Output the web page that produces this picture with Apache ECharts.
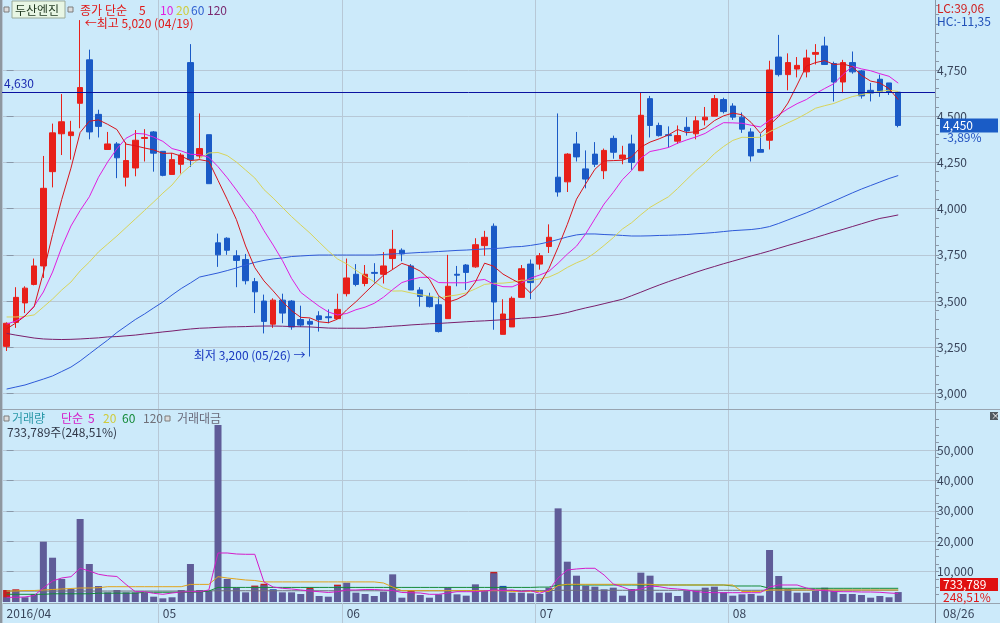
<!DOCTYPE html>
<html>
<head>
<meta charset="utf-8">
<title>두산엔진</title>
<script src="https://cdn.jsdelivr.net/npm/echarts@6.0.0/dist/echarts.min.js"></script>
<style>
html,body{margin:0;padding:0;background:#cceafa;}
#chart{width:1000px;height:623px;}
</style>
</head>
<body>
<div id="chart"></div>
<script>
// ---------------- data ----------------
const stockName = '두산엔진';
const dates = ['04/06','04/07','04/08','04/11','04/12','04/14','04/15','04/18','04/19','04/20','04/21','04/22','04/25','04/26','04/27','04/28','04/29',
'05/02','05/03','05/04','05/09','05/10','05/11','05/12','05/13','05/16','05/17','05/18','05/19','05/20','05/23','05/24','05/25','05/26','05/27','05/30','05/31',
'06/01','06/02','06/03','06/07','06/08','06/09','06/10','06/13','06/14','06/15','06/16','06/17','06/20','06/21','06/22','06/23','06/24','06/27','06/28','06/29','06/30',
'07/01','07/04','07/05','07/06','07/07','07/08','07/11','07/12','07/13','07/14','07/15','07/18','07/19','07/20','07/21','07/22','07/25','07/26','07/27','07/28','07/29',
'08/01','08/02','08/03','08/04','08/05','08/08','08/09','08/10','08/11','08/12','08/16','08/17','08/18','08/19','08/22','08/23','08/24','08/25','08/26'];
const monthLabels = ['2016/04','05','06','07','08'];
const endLabel = '08/26';

const open = [3255,3385,3490,3590,3690,4200,4405,4395,4570,4805,
 4510,4320,4350,4170,4220,4380,4415,4310,4185,4240,
 4790,4285,4400,3815,3840,3745,3725,3605,3500,3375,
 3505,3500,3400,3390,3420,3415,3405,3540,3645,3595,
 3655,3645,3730,3775,3690,3560,3525,3480,3405,3645,
 3695,3685,3800,3905,3320,3360,3520,3700,3700,3795,
 4170,4145,4350,4215,4295,4205,4380,4270,4350,4205,
 4595,4450,4400,4365,4440,4405,4480,4500,4590,4555,
 4495,4415,4320,4370,4820,4725,4755,4740,4835,4880,
 4785,4685,4790,4745,4640,4700,4680,4630];
const close = [3380,3520,3570,3690,4110,4410,4470,4415,4655,4415,
 4445,4350,4275,4260,4370,4385,4300,4180,4265,4290,
 4265,4325,4135,3750,3775,3720,3610,3550,3390,3505,
 3435,3360,3370,3375,3400,3410,3455,3625,3590,3645,
 3650,3690,3780,3755,3560,3525,3470,3335,3580,3640,
 3655,3805,3845,3495,3430,3515,3675,3600,3745,3845,
 4090,4295,4280,4160,4240,4315,4305,4290,4250,4505,
 4450,4395,4395,4395,4420,4475,4495,4595,4525,4495,
 4430,4285,4305,4750,4725,4790,4775,4815,4845,4780,
 4685,4790,4740,4610,4625,4635,4630,4450];
const low = [3230,3355,3435,3585,3625,4115,4290,4265,4435,4375,
 4385,4320,4165,4120,4175,4255,4200,4175,4185,4190,
 4225,4265,4135,3685,3750,3575,3590,3435,3325,3355,
 3380,3345,3360,3200,3335,3380,3405,3525,3580,3580,
 3595,3595,3670,3715,3560,3470,3465,3330,3405,3580,
 3560,3680,3745,3345,3320,3360,3520,3510,3670,3760,
 4065,4090,4255,4110,4225,4160,4270,4240,4210,4205,
 4385,4390,4330,4350,4395,4375,4450,4500,4515,4480,
 4410,4255,4305,4320,4715,4640,4710,4710,4780,4780,
 4580,4625,4730,4595,4580,4605,4615,4440];
const high = [3385,3575,3580,3730,4285,4460,4620,4475,5020,4860,
 4535,4415,4360,4360,4425,4430,4420,4310,4300,4300,
 4890,4515,4400,3865,3845,3775,3755,3625,3535,3515,
 3540,3505,3475,3405,3445,3455,3540,3730,3700,3695,
 3705,3765,3885,3785,3700,3575,3545,3525,3750,3690,
 3700,3840,3880,3920,3510,3525,3695,3725,3760,3915,
 4515,4300,4415,4315,4360,4325,4395,4340,4400,4630,
 4610,4465,4445,4450,4495,4500,4550,4615,4600,4570,
 4520,4435,4405,4800,4940,4840,4820,4860,4890,4930,
 4795,4805,4850,4750,4680,4725,4680,4635];

const ma5 = [3350,3381,3419,3470,3654,3860,4050,4219,4412,4473,
 4480,4456,4428,4349,4340,4328,4318,4299,4300,4284,
 4260,4265,4256,4153,4050,3941,3798,3681,3609,3555,
 3498,3448,3412,3409,3388,3383,3402,3453,3496,3545,
 3593,3640,3671,3704,3687,3662,3618,3529,3494,3510,
 3536,3603,3705,3688,3646,3618,3592,3543,3593,3676,
 3791,3915,4051,4134,4213,4258,4260,4262,4280,4333,
 4360,4378,4399,4428,4411,4416,4436,4476,4502,4517,
 4508,4466,4408,4453,4499,4571,4669,4771,4790,4801,
 4780,4783,4768,4721,4690,4680,4649,4590];
const ma10 = [3375,3392,3419,3473,3549,3657,3792,3906,3990,4064,
 4170,4253,4324,4381,4407,4404,4387,4364,4325,4312,
 4294,4292,4278,4227,4167,4101,4032,3969,3881,3803,
 3720,3623,3547,3509,3472,3441,3425,3433,3453,3467,
 3488,3521,3562,3600,3616,3628,3629,3600,3599,3599,
 3599,3611,3617,3591,3578,3577,3598,3624,3641,3661,
 3705,3754,3797,3864,3945,4025,4088,4157,4207,4273,
 4309,4319,4331,4354,4372,4388,4407,4438,4465,4464,
 4462,4451,4442,4478,4508,4540,4568,4590,4622,4650,
 4676,4726,4770,4756,4746,4730,4716,4679];
const ma20 = [3414,3414,3417,3425,3468,3511,3560,3603,3663,3711,
 3766,3809,3852,3898,3944,3990,4036,4084,4128,4188,
 4232,4272,4301,4304,4287,4252,4209,4166,4103,4057,
 4007,3957,3912,3868,3819,3771,3728,3701,3667,3635,
 3604,3572,3554,3555,3544,3534,3527,3516,3526,3533,
 3544,3566,3590,3596,3597,3602,3613,3612,3620,3630,
 3652,3682,3707,3727,3761,3801,3843,3890,3924,3967,
 4007,4036,4064,4109,4158,4206,4247,4297,4336,4369,
 4386,4385,4386,4416,4440,4464,4487,4514,4543,4557,
 4569,4589,4606,4617,4626,4634,4641,4634];
const ma60 = [3024,3035,3046,3062,3078,3095,3119,3143,3176,3214,
 3252,3289,3330,3365,3400,3430,3463,3495,3533,3568,
 3598,3630,3641,3652,3665,3679,3695,3709,3720,3728,
 3733,3741,3744,3747,3749,3749,3749,3749,3749,3749,
 3749,3752,3755,3757,3760,3763,3765,3768,3771,3774,
 3776,3779,3782,3784,3787,3793,3795,3801,3809,3820,
 3833,3847,3858,3863,3863,3860,3858,3855,3852,3852,
 3853,3855,3856,3858,3860,3864,3867,3871,3876,3881,
 3884,3887,3893,3903,3920,3939,3958,3977,3998,4020,
 4041,4063,4085,4106,4125,4144,4163,4179];
const ma120 = [3325,3316,3308,3300,3295,3293,3292,3293,3295,3298,
 3301,3306,3308,3312,3316,3322,3327,3333,3338,3344,
 3349,3353,3355,3358,3360,3361,3362,3364,3365,3365,
 3364,3362,3361,3360,3357,3354,3353,3353,3353,3353,
 3357,3360,3364,3367,3371,3374,3377,3379,3382,3385,
 3388,3391,3393,3396,3399,3403,3407,3410,3413,3420,
 3428,3438,3451,3463,3474,3486,3498,3510,3529,3548,
 3568,3587,3605,3622,3639,3656,3672,3687,3702,3716,
 3730,3744,3757,3771,3786,3801,3815,3830,3844,3859,
 3874,3888,3903,3918,3933,3947,3956,3966];

// trading value bars (axis units)
const tradeValue = [1550,3600,1550,2630,19840,14570,7570,4280,27300,12500,
 5260,3180,3950,3180,3180,3070,1750,1210,1550,3950,
 12500,3950,3620,58220,7570,4820,3180,5040,5500,3950,
 3180,3180,2630,4280,1970,1750,5260,6350,3070,2630,
 1970,3390,9100,1420,3390,2300,1420,2520,4820,2520,
 2080,5810,3950,9430,4820,3070,3070,2850,2630,4710,
 30800,13260,8660,5370,5040,4170,4710,2080,4280,9650,
 8660,3070,3070,1970,3720,3720,4710,5040,3180,2080,
 2520,2630,2080,17100,8550,4280,3070,3070,3620,4710,
 3620,2630,2630,2300,1420,1970,1550,3265];
// volume bar tops that show above the trading-value bars (null = hidden)
const volumeCap = [3950,4180,null,null,null,null,null,null,null,null,
 null,null,null,null,null,null,null,null,null,null,
 null,null,null,null,null,null,null,5400,6000,4200,
 null,null,null,4700,null,null,5700,null,null,null,
 null,null,null,null,3900,null,null,null,null,null,
 null,null,null,9900,5300,null,null,null,null,null,
 null,null,null,null,null,null,null,null,null,null,
 null,null,null,null,null,null,null,null,null,null,
 null,null,null,null,null,null,null,null,null,null,
 null,null,null,null,null,null,null,null];
const volMa5 = [1546,1546,1645,2139,4606,6909,7896,8324,11087,10199,
 9113,8620,8390,5758,3389,3389,2862,2533,2961,3290,
 3389,3389,3948,16121,16121,15792,15693,15693,6580,4935,
 4507,4277,3948,3619,3389,3126,3389,3948,3948,4113,
 4113,3948,3784,3126,3060,2961,2533,2533,2961,3389,
 3389,3389,3619,3948,3784,3948,3455,3718,2862,3948,
 7896,10528,10857,11087,11087,8883,5922,4935,3784,4277,
 5264,5034,4507,4277,3948,3455,3126,3060,3060,3060,
 3060,3060,3060,4935,5593,5593,5593,4606,3948,3784,
 3455,3389,3389,3290,3290,3191,2961,2797];
const volMa20 = [3619,3619,3784,3784,3948,4113,4277,4442,4606,4606,
 4705,5034,5034,5034,5034,5034,5034,5034,5034,5034,
 5790,5790,5790,8324,7896,7567,7238,7074,6613,6613,
 6613,6613,6613,6613,6613,6613,6613,6613,6613,6613,
 6613,6251,4935,3718,3718,3718,3718,3718,3718,3718,
 3718,3718,3718,3718,3718,3455,3455,3455,3455,3455,
 5429,5823,5823,5823,5823,5823,5823,5823,5823,5823,
 5823,5593,5593,5593,5593,5593,5593,5593,5593,5593,
 3455,3455,3455,3948,3948,3948,3948,3948,3948,3948,
 3948,3948,3948,3948,3948,3948,3948,3948];
const volMa60 = [2533,2533,2533,2533,2533,2700,2700,2700,2700,2700,
 2900,2900,2900,2900,2900,3200,3200,3200,3200,3200,
 3200,3300,3600,4800,4800,4800,4800,4800,4800,4800,
 4800,4800,4800,4800,4800,4800,4800,4800,4800,4800,
 4800,4800,4800,4800,4800,4800,4800,4800,4800,4800,
 4800,4800,4800,4800,4800,4800,4800,4800,4900,4900,
 5593,5593,5593,5593,5593,5593,5593,5593,5593,5593,
 5593,5593,5593,5593,5593,5593,5593,5593,5593,5264,
 5264,5264,5264,4507,4507,4507,4507,4507,4507,4507,
 4507,4507,4507,4507,4507,4507,4507,4507];
const volMa120 = [3600,3600,3600,3600,3600,3600,3600,3600,3600,3600,
 3600,3600,3600,3600,3600,3600,3600,3600,3600,3600,
 3600,3600,3650,3700,3700,3700,3700,3700,3700,3700,
 3700,3700,3700,3700,3700,3700,3700,3700,3700,3700,
 3700,3700,3700,3700,3700,3700,3700,3700,3700,3700,
 3750,3750,3750,3750,3750,3750,3750,3750,3750,3750,
 3850,3850,3850,3850,3850,3850,3850,3850,3850,3850,
 3850,3850,3850,3850,3850,3850,3850,3850,3850,3850,
 3850,3850,3850,3900,3900,3900,3900,3900,3900,3900,
 3900,3900,3900,3900,3900,3900,3900,3900];

const priceTicks = [3000,3250,3500,3750,4000,4250,4500,4750];
const priceMinorTicks = [2950,3000,3050,3100,3150,3200,3250,3300,3350,3400,3450,3500,3550,3600,3650,3700,3750,3800,3850,3900,3950,4000,4050,4100,4150,4200,4250,4300,4350,4400,4450,4500,4550,4600,4650,4700,4750,4800,4850,4900,4950,5000,5050,5100];
const volTicks = [10000,20000,30000,40000,50000];
const volMinorTicks = [2500,5000,7500,10000,12500,15000,17500,20000,22500,25000,27500,30000,32500,35000,37500,40000,42500,45000,47500,50000,52500,55000,57500,60000];
const headerStats = ['LC:39,06', 'HC:-11,35'];
const lastVolume = 733789;
const volumeRatio = '248,51';

// ---------------- chart ----------------
const FONT = "'Noto Sans CJK KR','Noto Sans',sans-serif";
const C = {bg:'#cceafa', grid:'#b7c8d6', axis:'#8a98a8', text:'#38445a',
  up:'#e8201a', down:'#1a5ac6', ma5:'#d8141c', ma10:'#e01ee0', ma20:'#d8d45a', ma60:'#2e5ad8', ma120:'#7a1f6c',
  vol:'#5f5c98', vma5:'#d41cc8', vma20:'#e0a41c', vma60:'#148a38', vma120:'#707078'};
const fmt = v => String(v).replace(/\B(?=(\d{3})+(?!\d))/g, ',');
const N = dates.length, last = N - 1;
const monthStart = [];
dates.forEach((d, i) => { if (i === 0 || d.slice(0, 2) !== dates[i - 1].slice(0, 2)) monthStart.push(i); });
const boundaries = monthStart.map(i => i - 0.5);
const X_MIN = -0.5, X_MAX = 101;
const P_MIN = 2916.15, P_MAX = 5128.67, V_MAX = 63158;

const hiIdx = high.indexOf(Math.max(...high));
const loIdx = low.indexOf(Math.min(...low));
const prevClose = close[last - 1];
const pct = ((close[last] - prevClose) / prevClose * 100).toFixed(2).replace('.', ',');

const lineSeries = (name, data, color, x, y) => ({
  name, type: 'line', xAxisIndex: x, yAxisIndex: y, data: data.map((v, i) => [i, v]),
  symbol: 'none', smooth: false, silent: true, lineStyle: {color, width: 1}, z: 3
});

const xCommon = {type: 'value', min: X_MIN, max: X_MAX, axisLine: {show: false},
  axisTick: {show: false, customValues: boundaries},
  splitLine: {show: true, lineStyle: {color: C.grid, width: 1}}};

const option = {
  backgroundColor: C.bg,
  animation: false,
  textStyle: {fontFamily: FONT},
  grid: [
    {left: 2, top: 0, width: 933, height: 409},
    {left: 2, top: 410, width: 933, height: 192}
  ],
  xAxis: [
    Object.assign({gridIndex: 0, axisLabel: {show: false}}, xCommon),
    Object.assign({gridIndex: 1, axisLabel: {show: true, customValues: monthStart,
      formatter: v => monthLabels[monthStart.indexOf(Math.round(v))] || '',
      align: 'left', margin: 5, color: C.text, fontSize: 12, fontFamily: FONT}}, xCommon)
  ],
  yAxis: [
    {gridIndex: 0, type: 'value', position: 'right', min: P_MIN, max: P_MAX,
      axisLine: {show: false},
      axisTick: {show: true, customValues: priceTicks, length: 7, lineStyle: {color: C.axis}},
      axisLabel: {show: true, customValues: priceTicks, formatter: v => fmt(v), margin: 2,
        color: C.text, fontSize: 12, fontFamily: FONT},
      splitLine: {show: true, lineStyle: {color: C.grid}}},
    {gridIndex: 0, type: 'value', position: 'right', min: P_MIN, max: P_MAX,
      axisLine: {show: false}, axisLabel: {show: false}, splitLine: {show: false},
      axisTick: {show: true, customValues: priceMinorTicks, length: 4, lineStyle: {color: C.axis}}},
    {gridIndex: 1, type: 'value', position: 'right', min: 0, max: V_MAX,
      axisLine: {show: false},
      axisTick: {show: true, customValues: volTicks, length: 7, lineStyle: {color: C.axis}},
      axisLabel: {show: true, customValues: volTicks, formatter: v => fmt(v), margin: 2,
        color: C.text, fontSize: 12, fontFamily: FONT},
      splitLine: {show: true, lineStyle: {color: C.grid}}},
    {gridIndex: 1, type: 'value', position: 'right', min: 0, max: V_MAX,
      axisLine: {show: false}, axisLabel: {show: false}, splitLine: {show: false},
      axisTick: {show: true, customValues: volMinorTicks, length: 4, lineStyle: {color: C.axis}}}
  ],
  series: [
    {
      name: '가격', type: 'candlestick', xAxisIndex: 0, yAxisIndex: 0,
      data: dates.map((d, i) => [i, open[i], close[i], low[i], high[i]]),
      encode: {x: 0, y: [1, 2, 3, 4]},
      barWidth: 6, silent: true, z: 2,
      itemStyle: {color: C.up, color0: C.down, borderColor: C.up, borderColor0: C.down, borderWidth: 1},
      markLine: {
        silent: true, symbol: 'none', animation: false,
        lineStyle: {color: '#0a12a0', width: 1, type: 'solid'},
        label: {show: true, position: 'insideStartTop', formatter: fmt(prevClose), color: '#1a2ab0',
          fontSize: 12, fontFamily: FONT, distance: [2, 3]},
        data: [{yAxis: prevClose}]
      },
      markPoint: {
        silent: true, symbol: 'circle', symbolSize: 1, itemStyle: {color: 'rgba(0,0,0,0)'},
        data: [
          {coord: [hiIdx, high[hiIdx]], label: {show: true, position: 'right', distance: 4, offset: [0, 3],
            formatter: '←최고 ' + fmt(high[hiIdx]) + ' (' + dates[hiIdx] + ')', color: '#e01818', fontSize: 12, fontFamily: FONT}},
          {coord: [loIdx, low[loIdx]], label: {show: true, position: 'left', distance: 4, offset: [0, -1],
            formatter: '최저 ' + fmt(low[loIdx]) + ' (' + dates[loIdx] + ') →', color: '#1838c0', fontSize: 12, fontFamily: FONT}}
        ]
      }
    },
    lineSeries('120', ma120, C.ma120, 0, 0),
    lineSeries('60', ma60, C.ma60, 0, 0),
    lineSeries('20', ma20, C.ma20, 0, 0),
    lineSeries('10', ma10, C.ma10, 0, 0),
    lineSeries('5', ma5, C.ma5, 0, 0),
    {
      name: '거래량', type: 'bar', xAxisIndex: 1, yAxisIndex: 2, barWidth: 7, barGap: '-100%', silent: true,
      data: volumeCap.map((v, i) => ({value: [i, v],
        itemStyle: {color: (i === 0 || tradeValue[i] >= tradeValue[i - 1]) ? '#c42020' : '#1a50b0'}}))
    },
    {
      name: '거래대금', type: 'bar', xAxisIndex: 1, yAxisIndex: 2, barWidth: 7, barGap: '-100%', silent: true,
      itemStyle: {color: C.vol}, data: tradeValue.map((v, i) => [i, v])
    },
    lineSeries('v120', volMa120, C.vma120, 1, 2),
    lineSeries('v60', volMa60, C.vma60, 1, 2),
    lineSeries('v20', volMa20, C.vma20, 1, 2),
    lineSeries('v5', volMa5, C.vma5, 1, 2)
  ]
};

const chart = echarts.init(document.getElementById('chart'), null, {renderer: 'canvas', width: 1000, height: 623});
chart.setOption(option);

// ---------------- frame, legends and side labels ----------------
const T = (text, x, y, fill, size, extra) => Object.assign({type: 'text', x, y, z: 100, silent: true,
  style: {text, fill, font: (size || 12) + 'px ' + FONT, verticalAlign: 'middle', align: 'left'}}, extra || {});
const L = (x1, y1, x2, y2, stroke) => ({type: 'line', z: 90, silent: true, shape: {x1, y1, x2, y2}, style: {stroke, lineWidth: 1}});
const sq = (x, y) => ({type: 'rect', z: 100, silent: true, shape: {x, y, width: 5, height: 5}, style: {fill: '#dcdcdc', stroke: '#7c7c7c', lineWidth: 1}});

const priceY = chart.convertToPixel({yAxisIndex: 0}, close[last]);
const g = [
  {type: 'rect', z: 95, silent: true, shape: {x: 0, y: 0, width: 2, height: 623}, style: {fill: '#8e979f'}},
  L(0, 409.5, 1000, 409.5, '#98a4b0'),
  L(0, 603.5, 1000, 603.5, '#98a4b0'),
  L(935.5, 0, 935.5, 623, '#8a98a8'),
  // price legend
  sq(4, 7), sq(68, 7),
  {type: 'rect', z: 99, silent: true, shape: {x: 12, y: 1, width: 53, height: 17}, style: {fill: '#e8f6e4', stroke: '#9aaa9a', lineWidth: 1}},
  T(stockName, 15, 10, '#1c341c', 12),
  T('종가', 80, 10, '#e01818'), T('단순', 105, 10, '#e01818'), T('5', 139, 10, '#e01818'),
  T('10', 160, 10, C.ma10), T('20', 176, 10, '#cfcb3c'), T('60', 191, 10, '#3060d0'), T('120', 207, 10, '#7a2a70'),
  T(headerStats[0], 937, 8, '#d02020'), T(headerStats[1], 937, 21, '#2050b8'),
  // last price box
  {type: 'rect', z: 99, silent: true, shape: {x: 940, y: priceY - 7, width: 58, height: 14}, style: {fill: '#1a5cc6'}},
  T(fmt(close[last]), 943, priceY, '#ffffff'),
  T(pct + '%', 943, priceY + 12, '#2050c0'),
  // volume legend
  sq(4, 416), T('거래량', 12, 418, '#2a98a8'), T('단순', 61, 418, '#d41cc8'), T('5', 88, 418, '#d41cc8'),
  T('20', 103, 418, '#cfcb3c'), T('60', 122, 418, '#148a38'), T('120', 143, 418, '#707078'),
  sq(165, 416), T('거래대금', 177, 418, '#6a6a7a'),
  T(fmt(lastVolume) + '주(' + volumeRatio + '%)', 7, 432, '#303848'),
  {type: 'rect', z: 99, silent: true, shape: {x: 940, y: 578, width: 58, height: 13}, style: {fill: '#e01010'}},
  T(fmt(lastVolume), 943, 584.5, '#ffffff'),
  T(volumeRatio + '%', 943, 597, '#e01818'),
  {type: 'rect', z: 99, silent: true, shape: {x: 990, y: 412, width: 8, height: 8}, style: {fill: '#505860'}},
  T('×', 991, 416, '#ffffff', 9),
  T(endLabel, 943, 613, C.text)
];
boundaries.forEach(b => {
  const x = Math.round(chart.convertToPixel({xAxisIndex: 1}, b)) + 0.5;
  g.push(L(x, 603, x, 623, C.grid));
});
chart.setOption({graphic: g});
</script>
</body>
</html>
